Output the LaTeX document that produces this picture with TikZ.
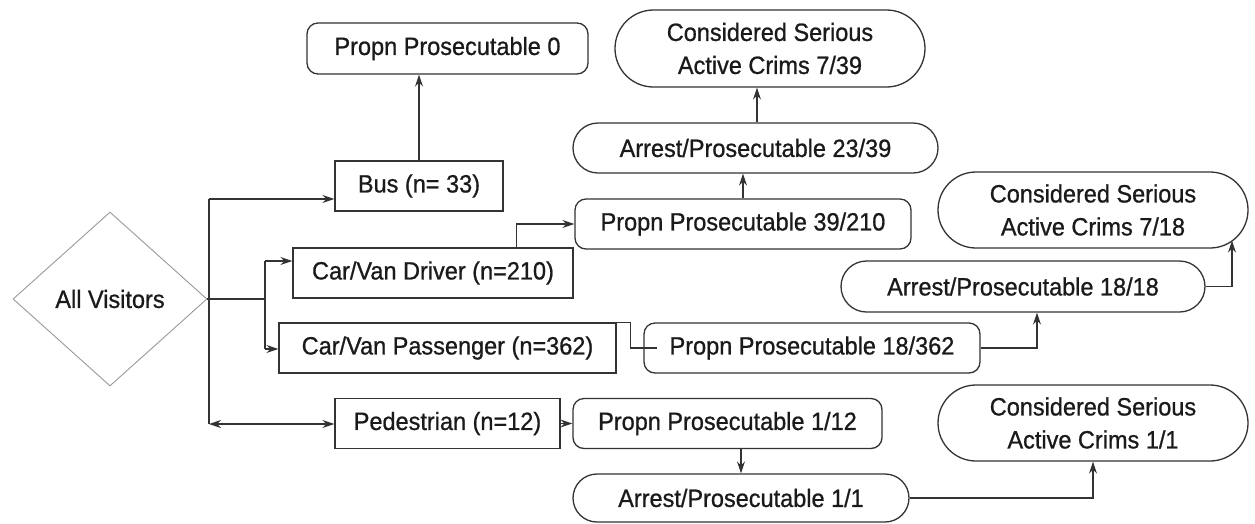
\documentclass[tikz,border=0pt]{standalone}
\usepackage{fontspec}
\setmainfont{Liberation Sans}[FakeStretch=0.94,FakeBold=0.8]
\usetikzlibrary{shapes.geometric,shapes.misc,arrows.meta,calc}
\definecolor{ink}{HTML}{1A1A1A}
\definecolor{edge}{HTML}{333333}
\definecolor{dia}{HTML}{9A9A9A}
\tikzset{
  base/.style={draw=edge, line width=1.3pt, text=ink, inner sep=0pt,
    font=\fontsize{25}{33}\selectfont, align=center},
  rectbox/.style={base, rectangle, minimum height=50pt},
  roundbox/.style={base, rectangle, rounded corners=11pt, minimum height=50pt},
  pill/.style={base, rounded rectangle, rounded rectangle arc length=180, minimum height=50pt},
  bigpill/.style={base, rounded rectangle, rounded rectangle arc length=180, minimum height=77pt},
  conn/.style={draw=edge, line width=1.3pt},
  arr/.style={conn, -{Stealth[length=12pt,width=8pt,inset=4pt]}},
  darr/.style={conn, {Stealth[length=12pt,width=8pt,inset=4pt]}-{Stealth[length=12pt,width=8pt,inset=4pt]}}
}
\begin{document}
\begin{tikzpicture}[x=1pt,y=-1pt]
\useasboundingbox (0,0) rectangle (1255,523);
\fill[white] (0,0) rectangle (1255,523);

\node[diamond, draw=dia, line width=0.9pt, text=ink, inner sep=0pt,
  minimum width=194pt, minimum height=174pt,
  font=\fontsize{25}{33}\selectfont] (vis) at (110,299) {All Visitors};

\node[rectbox, minimum width=168pt] (bus) at (419,186) {Bus (n= 33)};
\node[roundbox, minimum width=281pt, minimum height=51pt] (p0) at (447.5,48.5) {Propn Prosecutable 0};
\node[bigpill, minimum width=310pt] (cs39) at (770,48.5) {Considered Serious\\Active Crims 7/39};
\node[pill, minimum width=365pt] (a39) at (755.5,148) {Arrest/Prosecutable 23/39};
\node[roundbox, minimum width=336pt] (p210) at (743,224) {Propn Prosecutable 39/210};
\node[rectbox, minimum width=280pt] (drv) at (433,273) {Car/Van Driver (n=210)};
\node[rectbox, minimum width=337pt] (pas) at (447.5,348) {Car/Van Passenger (n=362)};
\node[roundbox, minimum width=336pt] (p362) at (812,348) {Propn Prosecutable 18/362};
\node[pill, minimum width=364pt, minimum height=51pt] (a18) at (1023,286.5) {Arrest/Prosecutable 18/18};
\node[bigpill, minimum width=310pt, minimum height=76pt] (cs18) at (1093,210) {Considered Serious\\Active Crims 7/18};
\node[rectbox, minimum width=225pt] (ped) at (447.5,423.5) {Pedestrian (n=12)};
\node[roundbox, minimum width=309pt] (p12) at (727.5,423.5) {Propn Prosecutable 1/12};
\node[pill, minimum width=336pt, minimum height=48pt] (a1) at (741,498) {Arrest/Prosecutable 1/1};
\node[bigpill, minimum width=310pt, minimum height=76pt] (cs1) at (1093,423) {Considered Serious\\Active Crims 1/1};

% trunk
\coordinate (t1) at (209,199);
\coordinate (t2) at (209,424);
\coordinate (j) at (265,299);
\coordinate (j1) at (265,261);
\coordinate (j2) at (265,349);
\draw[conn] (t1) -- (t2);
\draw[conn] (vis.east) -- (j);
\draw[conn] (j1) -- (j2);
\draw[arr] (t1) -- (t1 -| bus.west);
\draw[darr] (t2) -- (t2 -| ped.west);
\draw[arr] (j1) -- (j1 -| drv.west);
\draw[arr] (j2) -- (j2 -| pas.west);

% branches
\draw[arr] (bus.north) -- (bus.north |- p0.south);
\draw[arr] ([xshift=224pt]drv.north west) |- (p210.west);
\draw[arr] (p210.north) -- (p210.north |- a39.south);
\draw[arr] ([xshift=1.5pt]a39.north) -- ([xshift=1.5pt]a39.north |- cs39.south);
\draw[conn] (pas.north east) -- ++(14,0) |- ([xshift=14pt]p362.west);
\draw[arr] (p362.east) -| ([xshift=14pt]a18.south);
\draw[arr] (a18.east) -| ([xshift=139pt,yshift=8pt]cs18.south);
\draw[arr] (ped.east) -- (p12.west);
\draw[arr] (p12.south -| a1.north) -- (a1.north);
\draw[arr] (a1.east) -| (cs1.south);
\end{tikzpicture}
\end{document}
